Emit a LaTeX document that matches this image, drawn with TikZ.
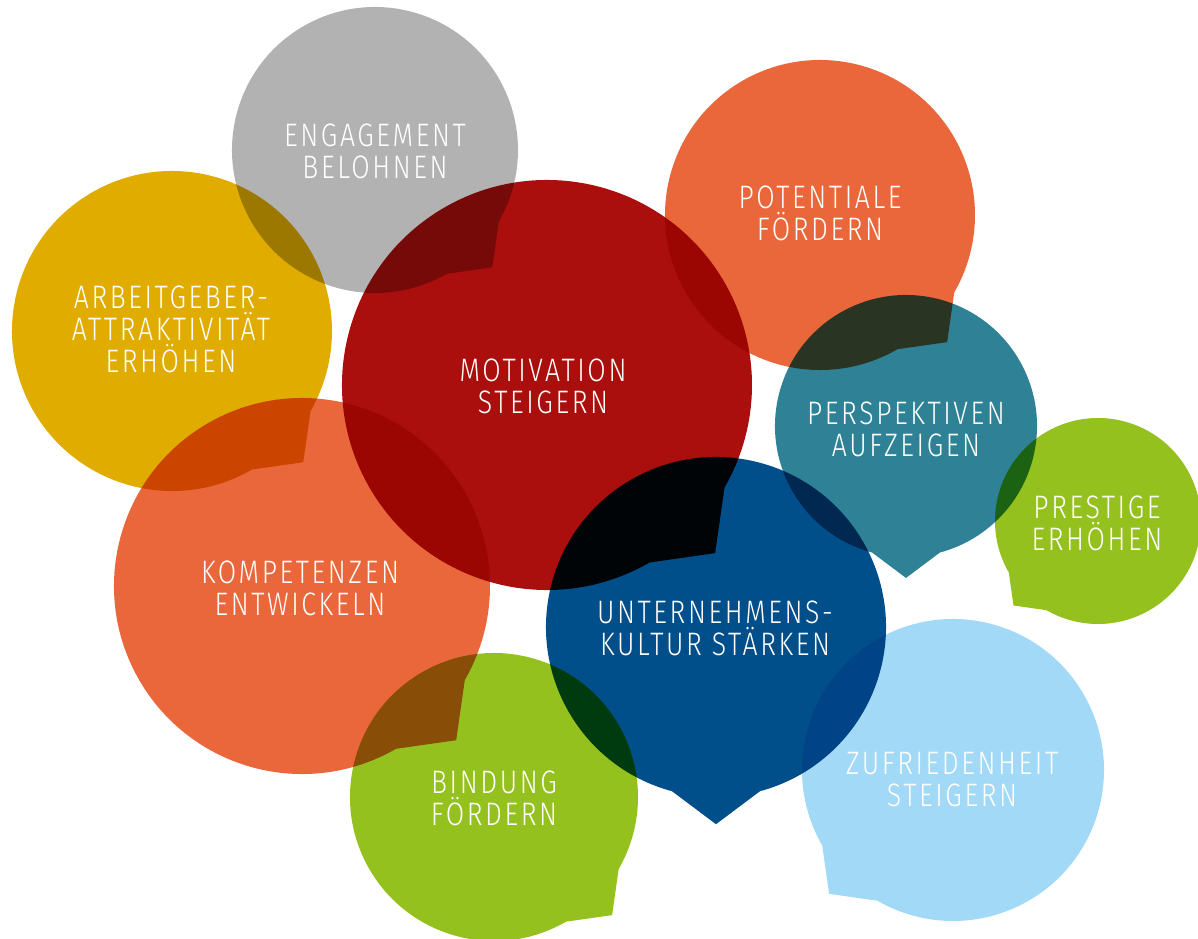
\documentclass[tikz,border=0pt]{standalone}
\usepackage{fontspec}
\setmainfont{Fira Sans}[UprightFont=* Light,FakeStretch=0.82,LetterSpace=8]
\usepackage{tikz}

\definecolor{bubblegray}{HTML}{B2B2B2}
\definecolor{bubbleyellow}{HTML}{E0AC00}
\definecolor{bubblered}{HTML}{AA0F0D}
\definecolor{bubbleorange}{HTML}{E9673A}
\definecolor{bubbleteal}{HTML}{2F8296}
\definecolor{bubblegreen}{HTML}{95C11F}
\definecolor{bubbleblue}{HTML}{004F8B}
\definecolor{bubblesky}{HTML}{A1D9F6}

% #1 centre, #2 radius, #3 direction of the tail, #4 colour
\newcommand{\speechbubble}[4]{%
  \fill[#4] ([shift={(#3+15:#2)}]#1) arc[start angle=#3+15, end angle=#3+345, radius=#2]
    -- ([shift={(#3:1.16*#2)}]#1) -- cycle;}

\tikzset{bubbletext/.style={text=white, align=center, inner sep=0pt,
    font=\fontsize{18.5}{18.2}\selectfont}}

\begin{document}
\begin{tikzpicture}[x=0.02cm, y=-0.02cm]
			\useasboundingbox (0,0) rectangle (1198,939);
			\coordinate (engagement) at (375,150);
			\coordinate (arbeitgeber) at (172,331);
			\coordinate (motivation) at (547,385);
			\coordinate (potentiale) at (820,215);
			\coordinate (perspektiven) at (906,426);
			\coordinate (prestige) at (1098,521);
			\coordinate (kompetenzen) at (302,586);
			\coordinate (bindung) at (494,797);
			\coordinate (kultur) at (716,627);
			\coordinate (zufriedenheit) at (953,770);
			\begin{scope}[blend mode=multiply]
				\speechbubble{engagement}{143}{45}{bubblegray}
				\speechbubble{arbeitgeber}{160}{45}{bubbleyellow}
				\speechbubble{motivation}{205}{45}{bubblered}
				\speechbubble{potentiale}{155}{45}{bubbleorange}
				\speechbubble{perspektiven}{131}{90}{bubbleteal}
				\speechbubble{prestige}{103}{135}{bubblegreen}
				\speechbubble{kompetenzen}{188}{45}{bubbleorange}
				\speechbubble{bindung}{144}{45}{bubblegreen}
				\speechbubble{kultur}{170}{90}{bubbleblue}
				\speechbubble{zufriedenheit}{151}{135}{bubblesky}
			\end{scope}
			\node[bubbletext] (engagementtext) at (375,151) {ENGAGEMENT\\BELOHNEN};
			\node[bubbletext] (arbeitgebertext) at (171,329) {ARBEITGEBER-\\ATTRAKTIVITÄT\\ERHÖHEN};
			\node[bubbletext] (motivationtext) at (543,386) {MOTIVATION\\STEIGERN};
			\node[bubbletext] (potentialetext) at (820,213) {POTENTIALE\\FÖRDERN};
			\node[bubbletext] (perspektiventext) at (906,429) {PERSPEKTIVEN\\AUFZEIGEN};
			\node[bubbletext] (prestigetext) at (1097,523) {PRESTIGE\\ERHÖHEN};
			\node[bubbletext] (kompetenzentext) at (300,588) {KOMPETENZEN\\ENTWICKELN};
			\node[bubbletext] (kulturtext) at (715,628) {UNTERNEHMENS-\\KULTUR STÄRKEN};
			\node[bubbletext] (bindungtext) at (494,798) {BINDUNG\\FÖRDERN};
			\node[bubbletext] (zufriedenheittext) at (952,780) {ZUFRIEDENHEIT\\STEIGERN};
		\end{tikzpicture}
\end{document}
